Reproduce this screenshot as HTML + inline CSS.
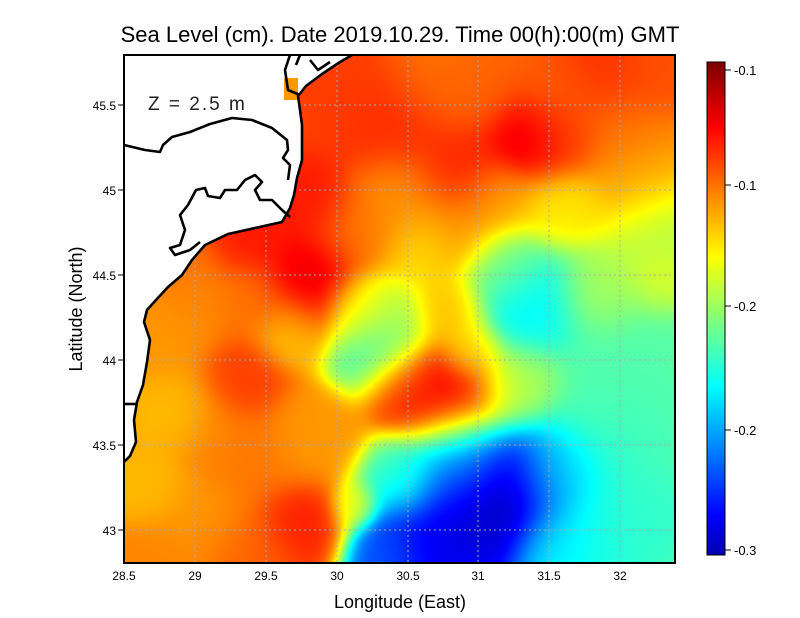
<!DOCTYPE html>
<html><head><meta charset="utf-8"><style>
body{margin:0;background:#fff;width:800px;height:618px;overflow:hidden;position:relative;font-family:"Liberation Sans",sans-serif}
canvas{position:absolute}
svg{position:absolute;left:0;top:0}
</style></head><body>
<canvas id="c" width="551" height="508" style="left:124px;top:55px"></canvas>
<canvas id="cb" width="18" height="493" style="left:707px;top:62px"></canvas>
<svg width="800" height="618">
<g stroke="#aaa" stroke-width="1" stroke-dasharray="2,3">
<line x1="195" y1="55" x2="195" y2="563"/><line x1="266" y1="55" x2="266" y2="563"/><line x1="337" y1="55" x2="337" y2="563"/><line x1="408" y1="55" x2="408" y2="563"/><line x1="478" y1="55" x2="478" y2="563"/><line x1="549" y1="55" x2="549" y2="563"/><line x1="620" y1="55" x2="620" y2="563"/>
<line x1="124" y1="105" x2="675" y2="105"/><line x1="124" y1="190" x2="675" y2="190"/><line x1="124" y1="275" x2="675" y2="275"/><line x1="124" y1="360" x2="675" y2="360"/><line x1="124" y1="445" x2="675" y2="445"/><line x1="124" y1="530" x2="675" y2="530"/>
</g>
<path d="M124,55 L352,55 L340,62 L322,74 L306,86 L298,96 L300,110 L302,125 L302,160 L297,178 L294,195 L290,208 L282,222 L255,228 L228,234 L205,245 L192,260 L182,275 L168,287 L156,300 L147,310 L144,322 L150,340 L147,362 L143,385 L137,402 L134,420 L136,442 L130,456 L124,462 Z" fill="#fff"/>
<rect x="284" y="78" width="14" height="22" fill="#f90"/>
<g fill="none" stroke="#000" stroke-width="2.6" stroke-linejoin="round">
<path d="M352,55 L340,62 L322,74 L306,86 L298,96 L300,110 L302,125 L302,160 L297,178 L294,195 L290,208 L282,222 L255,228 L228,234 L205,245 L192,260 L182,275 L168,287 L156,300 L147,310 L144,322 L150,340 L147,362 L143,385 L137,402 L134,420 L136,442 L130,456 L124,462"/>
<path d="M124,145 L145,150 L160,152 L163,145 L172,137 L190,132 L210,124 L232,118 L252,120 L272,128 L287,140 L288,150 L283,158 L290,165 L288,180"/>
<path d="M290,217 L282,210 L272,200 L260,200 L255,190 L262,182 L255,175 L245,180 L237,190 L225,190 L220,198 L208,196 L205,188 L196,190 L188,205 L180,215 L185,230 L180,245 L170,248 L175,255 L190,250 L200,242"/>
<path d="M290,55 L285,70 L288,90 L300,95 M300,55 L296,65 M310,60 L318,70 L330,62"/>
<path d="M124,404 L136,404"/>
</g>
<text x="148" y="110" font-size="19" fill="#222" letter-spacing="2">Z = 2.5 m</text>
<rect x="124" y="55" width="551" height="508" fill="none" stroke="#000" stroke-width="2"/>
<rect x="707" y="62" width="18" height="493" fill="none" stroke="#000" stroke-width="1"/>
<text x="400" y="42" font-size="22" text-anchor="middle">Sea Level (cm). Date 2019.10.29. Time 00(h):00(m) GMT</text>
<text x="400" y="608" font-size="18" text-anchor="middle">Longitude (East)</text>
<text transform="translate(82,309) rotate(-90)" font-size="18" text-anchor="middle">Latitude (North)</text>
<g font-size="12" text-anchor="middle">
<text x="124" y="580">28.5</text><text x="195" y="580">29</text><text x="266" y="580">29.5</text><text x="337" y="580">30</text><text x="408" y="580">30.5</text><text x="478" y="580">31</text><text x="549" y="580">31.5</text><text x="620" y="580">32</text>
</g>
<g font-size="12" text-anchor="end">
<text x="116" y="110">45.5</text><text x="116" y="195">45</text><text x="116" y="280">44.5</text><text x="116" y="365">44</text><text x="116" y="450">43.5</text><text x="116" y="535">43</text>
</g>
<g stroke="#000"><line x1="124" y1="105" x2="118" y2="105"/><line x1="124" y1="190" x2="118" y2="190"/><line x1="124" y1="275" x2="118" y2="275"/><line x1="124" y1="360" x2="118" y2="360"/><line x1="124" y1="445" x2="118" y2="445"/><line x1="124" y1="530" x2="118" y2="530"/>
<line x1="725" y1="70" x2="731" y2="70"/><line x1="725" y1="185" x2="731" y2="185"/><line x1="725" y1="306" x2="731" y2="306"/><line x1="725" y1="430" x2="731" y2="430"/><line x1="725" y1="550" x2="731" y2="550"/></g>
<g font-size="13"><text x="734" y="75">-0.1</text><text x="734" y="190">-0.1</text><text x="734" y="311">-0.2</text><text x="734" y="435">-0.2</text><text x="734" y="555">-0.3</text></g>
</svg>
<script>
function jet(t){t=Math.max(0,Math.min(1,t));
function c(x){return Math.max(0,Math.min(1,x));}
var r=c(1.5-Math.abs(4*t-3)),g=c(1.5-Math.abs(4*t-2)),b=c(1.5-Math.abs(4*t-1));
return [r*255|0,g*255|0,b*255|0];}
var P=[
[330,85,30,0.84],[390,120,30,0.86],[530,140,22,0.95],[460,170,25,0.87],[310,200,22,0.88],[245,235,22,0.88],[310,285,25,0.93],
[600,75,25,0.86],[650,70,20,0.82],[450,400,28,0.92],[405,385,20,0.86],[470,90,25,0.8],[560,95,25,0.8],[430,70,25,0.78],
[420,250,20,0.66],[360,310,18,0.64],[290,330,18,0.68],[560,205,22,0.65],[660,230,25,0.55],[640,180,25,0.72],[500,200,20,0.72],
[180,410,22,0.7],[150,490,18,0.7],[200,300,22,0.76],[240,380,22,0.84],[310,440,25,0.74],[305,525,22,0.88],
[375,350,22,0.42],[530,305,30,0.36],[505,265,20,0.5],[640,350,35,0.45],[600,290,22,0.55],[660,280,18,0.6],
[385,320,22,0.55],[450,310,18,0.7],[520,385,22,0.55],[470,350,15,0.66],
[500,495,35,0.03],[430,540,35,0.1],[385,555,18,0.22],[460,460,25,0.28],[560,470,25,0.33],[620,450,35,0.42],[600,540,30,0.4],
[660,520,25,0.42],[560,550,22,0.36],[400,480,20,0.45],[355,505,12,0.62],[600,400,25,0.45],[670,430,25,0.45],
[200,520,25,0.74],[250,460,22,0.78],[170,340,22,0.74],[400,200,25,0.74],[460,230,22,0.74],[160,560,22,0.76],[250,555,25,0.8],
[360,230,22,0.78],[250,300,20,0.78],[220,440,20,0.76],[180,250,20,0.78],[620,130,25,0.78],[560,140,20,0.84]];
for(var i=0;i<P.length;i++){if(P[i][3]>0.6)P[i][3]=0.6+(P[i][3]-0.6)*0.9;}
var cv=document.getElementById('c'),ctx=cv.getContext('2d'),W=551,H=508,im=ctx.createImageData(W,H);
for(var y=0;y<H;y++)for(var x=0;x<W;x++){var X=x+124,Y=y+55,w=0.03,s=w*0.75;
for(var i=0;i<P.length;i++){var p=P[i],dx=X-p[0],dy=Y-p[1],k=Math.exp(-(dx*dx+dy*dy)/(p[2]*p[2]*2.5));s+=k*p[3];w+=k;}
var col=jet(s/w),o=(y*W+x)*4;im.data[o]=col[0];im.data[o+1]=col[1];im.data[o+2]=col[2];im.data[o+3]=255;}
ctx.putImageData(im,0,0);
var cb=document.getElementById('cb').getContext('2d'),ci=cb.createImageData(18,493);
for(var y=0;y<493;y++){var col=jet(0.05+0.95*(1-y/492));for(var x=0;x<18;x++){var o=(y*18+x)*4;ci.data[o]=col[0];ci.data[o+1]=col[1];ci.data[o+2]=col[2];ci.data[o+3]=255;}}
cb.putImageData(ci,0,0);
</script>
</body></html>
